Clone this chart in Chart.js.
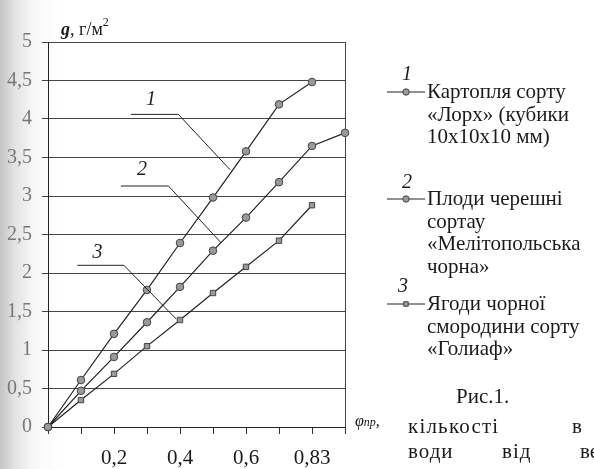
<!DOCTYPE html>
<html>
<head>
<meta charset="utf-8">
<script src="https://cdn.jsdelivr.net/npm/chart.js@4.4.1/dist/chart.umd.min.js"></script>
<style>
  html, body { margin: 0; padding: 0; }
  body {
    width: 594px; height: 469px; overflow: hidden; position: relative;
    background: linear-gradient(to right, #c4c4c4 0px, #e2e2e2 14px, #f8f8f8 34px, #ffffff 60px);
    font-family: "Liberation Serif", "DejaVu Serif", serif; color: #1a1a1a;
  }
  #chart { position: absolute; left: 0; top: 0; }
  .txt { position: absolute; white-space: nowrap; }
  .ytitle { left: 61px; top: 17px; font-size: 18px; }
  .ytitle b { font-style: italic; }
  .ytitle sup { font-size: 12px; position: relative; top: -2px; }
  .xtitle { left: 355px; top: 412px; font-size: 16px; font-style: italic; }
  .xtitle small { font-size: 12px; }
  .num { font-style: italic; font-size: 20px; }
  .leg { font-size: 21px; line-height: 22.5px; }
  .cap { font-size: 21px; }
</style>
</head>
<body>
<canvas id="chart" width="594" height="469"></canvas>

<div class="txt ytitle"><b>g</b>, г/м<sup>2</sup></div>
<div class="txt xtitle">φ<small>пр</small>,</div>

<div class="txt num" style="left:402px; top:62px;">1</div>
<div class="txt leg" style="left:427px; top:80px;">Картопля сорту<br>«Лорх» (кубики<br>10х10х10 мм)</div>

<div class="txt num" style="left:402px; top:170px;">2</div>
<div class="txt leg" style="left:427px; top:187px;">Плоди черешні<br>сортау<br>«Мелітопольська<br>чорна»</div>

<div class="txt num" style="left:398px; top:274px;">3</div>
<div class="txt leg" style="left:427px; top:292px;">Ягоди чорної<br>смородини сорту<br>«Голиаф»</div>

<div class="txt cap" style="left:456px; top:384px;">Рис.1.</div>
<div class="txt cap" style="left:408px; top:414px; letter-spacing:1.2px;">кількості</div>
<div class="txt cap" style="left:572px; top:414px;">в</div>
<div class="txt cap" style="left:408px; top:439px; letter-spacing:1px;">води</div>
<div class="txt cap" style="left:502px; top:439px; letter-spacing:1px;">від</div>
<div class="txt cap" style="left:580px; top:439px;">ве</div>

<script>
// точки по осі φпр (номер поділки) та підписи поділок
const xIndex = [0, 1, 2, 3, 4, 5, 6, 7, 8, 9];
const xTickLabels = ["", "", "0,2", "", "0,4", "", "0,6", "", "0,83", ""];
const yTickLabels = ["0", "0,5", "1", "1,5", "2", "2,5", "3", "3,5", "4", "4,5", "5"];

// g, г/м2
const potato = [0, 0.61, 1.21, 1.78, 2.39, 2.98, 3.58, 4.19, 4.48];
const cherry = [0, 0.47, 0.91, 1.36, 1.82, 2.29, 2.72, 3.18, 3.65, 3.82];
const currant = [0, 0.35, 0.69, 1.05, 1.39, 1.74, 2.08, 2.42, 2.88];

const seriesNames = ["1", "2", "3"];
const seriesStyles = ["circle", "circle", "rect"];

// виноски з номерами кривих (в одиницях осей)
const leaderLabels = [
  { text: "1", at: [3.12, 4.25], path: [[2.51, 4.06], [3.95, 4.06], [5.52, 3.34]] },
  { text: "2", at: [2.85, 3.34], path: [[2.21, 3.13], [3.65, 3.13], [5.25, 2.39]] },
  { text: "3", at: [1.50, 2.26], path: [[0.89, 2.10], [2.30, 2.10], [3.89, 1.40]] },
];

const lineLegend = [
  { y: 92, style: "circle" },
  { y: 199, style: "circle" },
  { y: 304, style: "rect" },
];

const toPoints = (vals) => vals.map((v, i) => ({ x: xIndex[i], y: v }));

const leaders = {
  id: "leaders",
  afterDatasetsDraw(chart) {
    const { ctx, scales: { x, y } } = chart;
    ctx.save();
    ctx.strokeStyle = "#222";
    ctx.lineWidth = 1;
    leaderLabels.forEach((l) => {
      ctx.beginPath();
      l.path.forEach(([px, py], i) => {
        const X = x.getPixelForValue(px), Y = y.getPixelForValue(py);
        if (i === 0) ctx.moveTo(X, Y); else ctx.lineTo(X, Y);
      });
      ctx.stroke();
      ctx.fillStyle = "#222";
      ctx.font = "italic 20px 'Liberation Serif', serif";
      ctx.textAlign = "center";
      ctx.textBaseline = "middle";
      ctx.fillText(l.text, x.getPixelForValue(l.at[0]), y.getPixelForValue(l.at[1]));
    });
    // короткі лінії з маркерами для легенди
    lineLegend.forEach((it) => {
      ctx.beginPath();
      ctx.moveTo(387, it.y); ctx.lineTo(425, it.y);
      ctx.stroke();
      ctx.fillStyle = "#999";
      ctx.strokeStyle = "#444";
      Chart.helpers.drawPoint(ctx, { pointStyle: it.style, radius: 3.2, borderWidth: 1 }, 406, it.y);
      ctx.strokeStyle = "#222";
    });
    ctx.restore();
  },
};

const mkSet = (label, vals, style) => ({
  label,
  data: toPoints(vals),
  borderColor: "#222",
  borderWidth: 1.2,
  pointStyle: style,
  pointRadius: 3.8,
  pointBackgroundColor: "#999",
  pointBorderColor: "#444",
  pointBorderWidth: 1,
  tension: 0,
  clip: false,
});

new Chart(document.getElementById("chart"), {
  type: "line",
  data: {
    datasets: [
      mkSet(seriesNames[0], potato, seriesStyles[0]),
      mkSet(seriesNames[1], cherry, seriesStyles[1]),
      mkSet(seriesNames[2], currant, seriesStyles[2]),
    ],
  },
  options: {
    responsive: false,
    animation: false,
    layout: { padding: { left: 0, top: 42, right: 249, bottom: 0 } },
    plugins: { legend: { display: false }, tooltip: { enabled: false } },
    scales: {
      x: {
        type: "linear", min: 0, max: 9,
        afterFit: (s) => { s.height = 42; },
        grid: { drawOnChartArea: false, drawTicks: true, tickLength: 7, color: "#333" },
        border: { display: true, color: "#222", width: 1 },
        ticks: {
          stepSize: 1, autoSkip: false, maxRotation: 0, padding: 12, color: "#1a1a1a",
          font: { family: "'Liberation Serif', serif", size: 21 },
          callback: (v) => xTickLabels[Math.round(v)] ?? "",
        },
      },
      y: {
        min: 0, max: 5,
        afterFit: (s) => { s.width = 48; },
        grid: { color: "#444", lineWidth: 1, tickLength: 6 },
        border: { display: true, color: "#222", width: 1 },
        ticks: {
          stepSize: 0.5, padding: 10, color: "#777",
          font: { family: "'Liberation Serif', serif", size: 20 },
          callback: (v, i) => yTickLabels[i],
        },
      },
      y2: {
        position: "right", min: 0, max: 5,
        afterFit: (s) => { s.width = 0; },
        grid: { drawOnChartArea: false, drawTicks: false },
        border: { display: true, color: "#444", width: 1 },
        ticks: { display: false },
      },
    },
  },
  plugins: [leaders],
});
</script>
</body>
</html>
